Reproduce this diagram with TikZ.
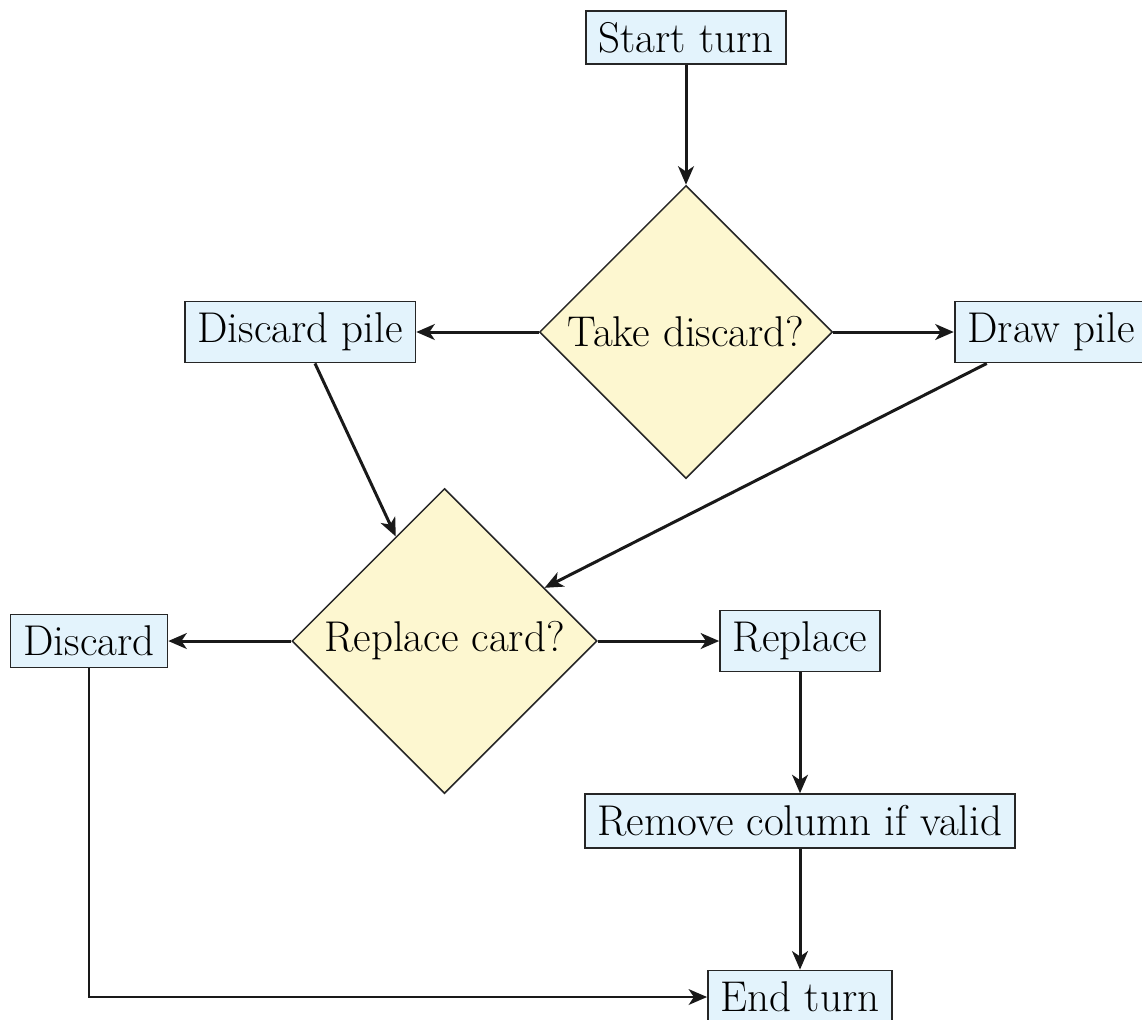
\documentclass[tikz,border=0pt]{standalone}
\usepackage{xcolor}
\usepackage{tikz}
\usetikzlibrary{arrows.meta, positioning, shapes.geometric, calc}

\definecolor{boxblue}{HTML}{E3F3FC}
\definecolor{choiceyellow}{HTML}{FDF7D0}

\begin{document}
\begin{tikzpicture}[x=0.02cm, y=-0.02cm,
    every node/.style={font=\fontsize{24.5}{29}\selectfont, text=black},
    stepbox/.style={rectangle, draw=black!85, line width=1pt, fill=boxblue,
      inner xsep=7.3pt, inner ysep=6.5pt},
    choice/.style={diamond, draw=black!85, line width=0.9pt, fill=choiceyellow,
      aspect=1, inner sep=0pt},
    flow/.style={-{Stealth[length=10.5pt, width=9pt, inset=3pt]},
      line width=1.7pt, black!90},
  ]
    \useasboundingbox (0,0) rectangle (1142,1019);

    \node(start) at (686,37.5) [stepbox] {Start turn};
    \node(take) at (686,332) [choice, minimum size=5.86cm] {Take discard?};
    \node(discpile) at (300,332) [stepbox] {Discard pile};
    \node(drawpile) at (1051,332) [stepbox] {Draw pile};
    \node(repl) at (444.5,641) [choice, minimum size=6.1cm] {Replace card?};
    \node(discard) at (89,641) [stepbox] {Discard};
    \node(replace) at (800,641) [stepbox] {Replace};
    \node(remove) at (800,821) [stepbox] {Remove column if valid};
    \node(endturn) at (800,997) [stepbox] {End turn};

    \draw[flow] (start) -- (take);
    \draw[flow] (take) -- (discpile);
    \draw[flow] (take) -- (drawpile);
    \draw[flow] ($(discpile.south)+(15,0)$) -- (repl.115);
    \draw[flow] ($(drawpile.south west)+(33,0)$) -- (repl.28);
    \draw[flow] (repl) -- (discard);
    \draw[flow] (repl) -- (replace);
    \draw[flow] (replace) -- (remove);
    \draw[flow] (remove) -- (endturn);
    \draw[flow, line width=1.1pt] (discard) |- (endturn);
\end{tikzpicture}
\end{document}
